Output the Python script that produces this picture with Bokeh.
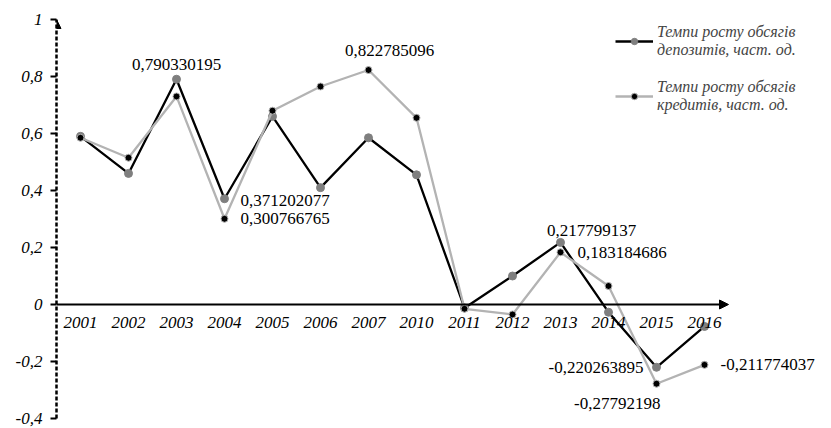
from bokeh.plotting import figure
from bokeh.models import (Range1d, FixedTicker, CustomJSTickFormatter, Arrow,
                          NormalHead, Legend, LegendItem, Label, ColumnDataSource)
from bokeh.embed import file_html
from bokeh.resources import INLINE

years = ["2001", "2002", "2003", "2004", "2005", "2006", "2007",
         "2010", "2011", "2012", "2013", "2014", "2015", "2016"]
deposits = [0.59, 0.46, 0.790330195, 0.371202077, 0.66, 0.41, 0.585,
            0.455, -0.012, 0.10, 0.217799137, -0.027, -0.220263895, -0.077]
credits = [0.585, 0.515, 0.73, 0.300766765, 0.68, 0.765, 0.822785096,
           0.655, -0.015, -0.035, 0.183184686, 0.065, -0.27792198, -0.211774037]
y_ticks = [-0.4, -0.2, 0, 0.2, 0.4, 0.6, 0.8, 1]
dep_name = "Темпи росту обсягів\nдепозитів, част. од."
cred_name = "Темпи росту обсягів\nкредитів, част. од."

# (series, year, align, dx, dy) -- dy in screen px, positive = down
label_specs = [
    ("dep", "2003", "center", 0, -15),
    ("cred", "2007", "center", 21, -20),
    ("dep", "2004", "left", 16, 2),
    ("cred", "2004", "left", 16, 0),
    ("dep", "2013", "center", 31, -12),
    ("cred", "2013", "left", 17, 0),
    ("dep", "2015", "right", -13, 0),
    ("cred", "2015", "right", 4, 20),
    ("cred", "2016", "left", 16, 0),
]

SERIF = "Liberation Serif"
n = len(years)
pos = [i + 0.5 for i in range(n)]  # slot centres on the category axis
src = ColumnDataSource(dict(x=pos, year=years, dep=deposits, cred=credits))

W, H = 831, 428
LEFT, TOP, BOTTOM = 56, 19, 10
slot_px = 48

p = figure(width=W, height=H,
           x_range=Range1d(0, (W - LEFT) / slot_px),
           y_range=Range1d(-0.4, 1.0),
           output_backend="svg", toolbar_location=None,
           min_border_left=LEFT, min_border_right=0,
           min_border_top=TOP, min_border_bottom=BOTTOM)
p.outline_line_color = None
p.grid.visible = False
p.background_fill_color = "white"

# y axis
yax = p.yaxis[0]
yax.ticker = FixedTicker(ticks=y_ticks)
yax.formatter = CustomJSTickFormatter(code="""
if (Math.abs(tick - Math.round(tick)) < 1e-9) return String(Math.round(tick));
return tick.toFixed(1).replace('.', ',');
""")
yax.axis_line_dash = "4 2"
yax.axis_line_width = 2.5
yax.major_tick_out = 6
yax.major_tick_in = 0
yax.major_tick_line_width = 2
yax.minor_tick_line_color = None
yax.major_label_standoff = 8
yax.major_label_text_font = SERIF
yax.major_label_text_font_style = "italic"
yax.major_label_text_font_size = "17px"
yax.major_label_text_color = "black"

# x axis at y = 0
xax = p.xaxis[0]
xax.fixed_location = 0
xax.ticker = FixedTicker(ticks=pos)
xax.formatter = CustomJSTickFormatter(args=dict(years=years),
                                      code="return years[Math.round(tick - 0.5)] || '';")
xax.axis_line_color = None
xax.major_tick_line_color = None
xax.minor_tick_line_color = None
xax.major_label_standoff = 6
xax.major_label_text_font = SERIF
xax.major_label_text_font_style = "italic"
xax.major_label_text_font_size = "17px"
xax.major_label_text_color = "black"

p.add_layout(Arrow(x_start=0, y_start=0, x_end=n, y_end=0, line_width=2, line_color="black",
                   end=NormalHead(size=9, fill_color="black", line_color="black")))
p.add_layout(Arrow(x_start=0, y_start=0.95, x_end=0, y_end=1.0, line_width=0, line_alpha=0,
                   end=NormalHead(size=9, fill_color="black", line_color="black")))

dep_line = p.line("x", "dep", source=src, line_color="black", line_width=2.3)
dep_pts = p.scatter("x", "dep", source=src, size=8, fill_color="#7f7f7f", line_color="#7f7f7f")
cred_line = p.line("x", "cred", source=src, line_color="#b3b3b3", line_width=2.3)
cred_pts = p.scatter("x", "cred", source=src, size=7, fill_color="black",
                     line_color="#b3b3b3", line_width=1)

series = {"dep": deposits, "cred": credits}
for s, yr, align, dx, dy in label_specs:
    i = years.index(yr)
    v = series[s][i]
    p.add_layout(Label(x=pos[i], y=v, text=str(v).replace(".", ","),
                       x_offset=dx, y_offset=-dy, text_align=align, text_baseline="middle",
                       text_font=SERIF, text_font_size="17px", text_color="black"))

legend = Legend(items=[LegendItem(label=dep_name, renderers=[dep_line, dep_pts]),
                       LegendItem(label=cred_name, renderers=[cred_line, cred_pts])],
                location=(559, 304))
legend.background_fill_alpha = 0
legend.border_line_color = None
legend.label_text_font = SERIF
legend.label_text_font_style = "italic"
legend.label_text_font_size = "16px"
legend.glyph_width = 38
legend.glyph_height = 16
legend.label_standoff = 4
legend.spacing = 19
legend.padding = 0
legend.margin = 0
p.add_layout(legend)

open("out.html", "w").write(file_html(p, INLINE))
